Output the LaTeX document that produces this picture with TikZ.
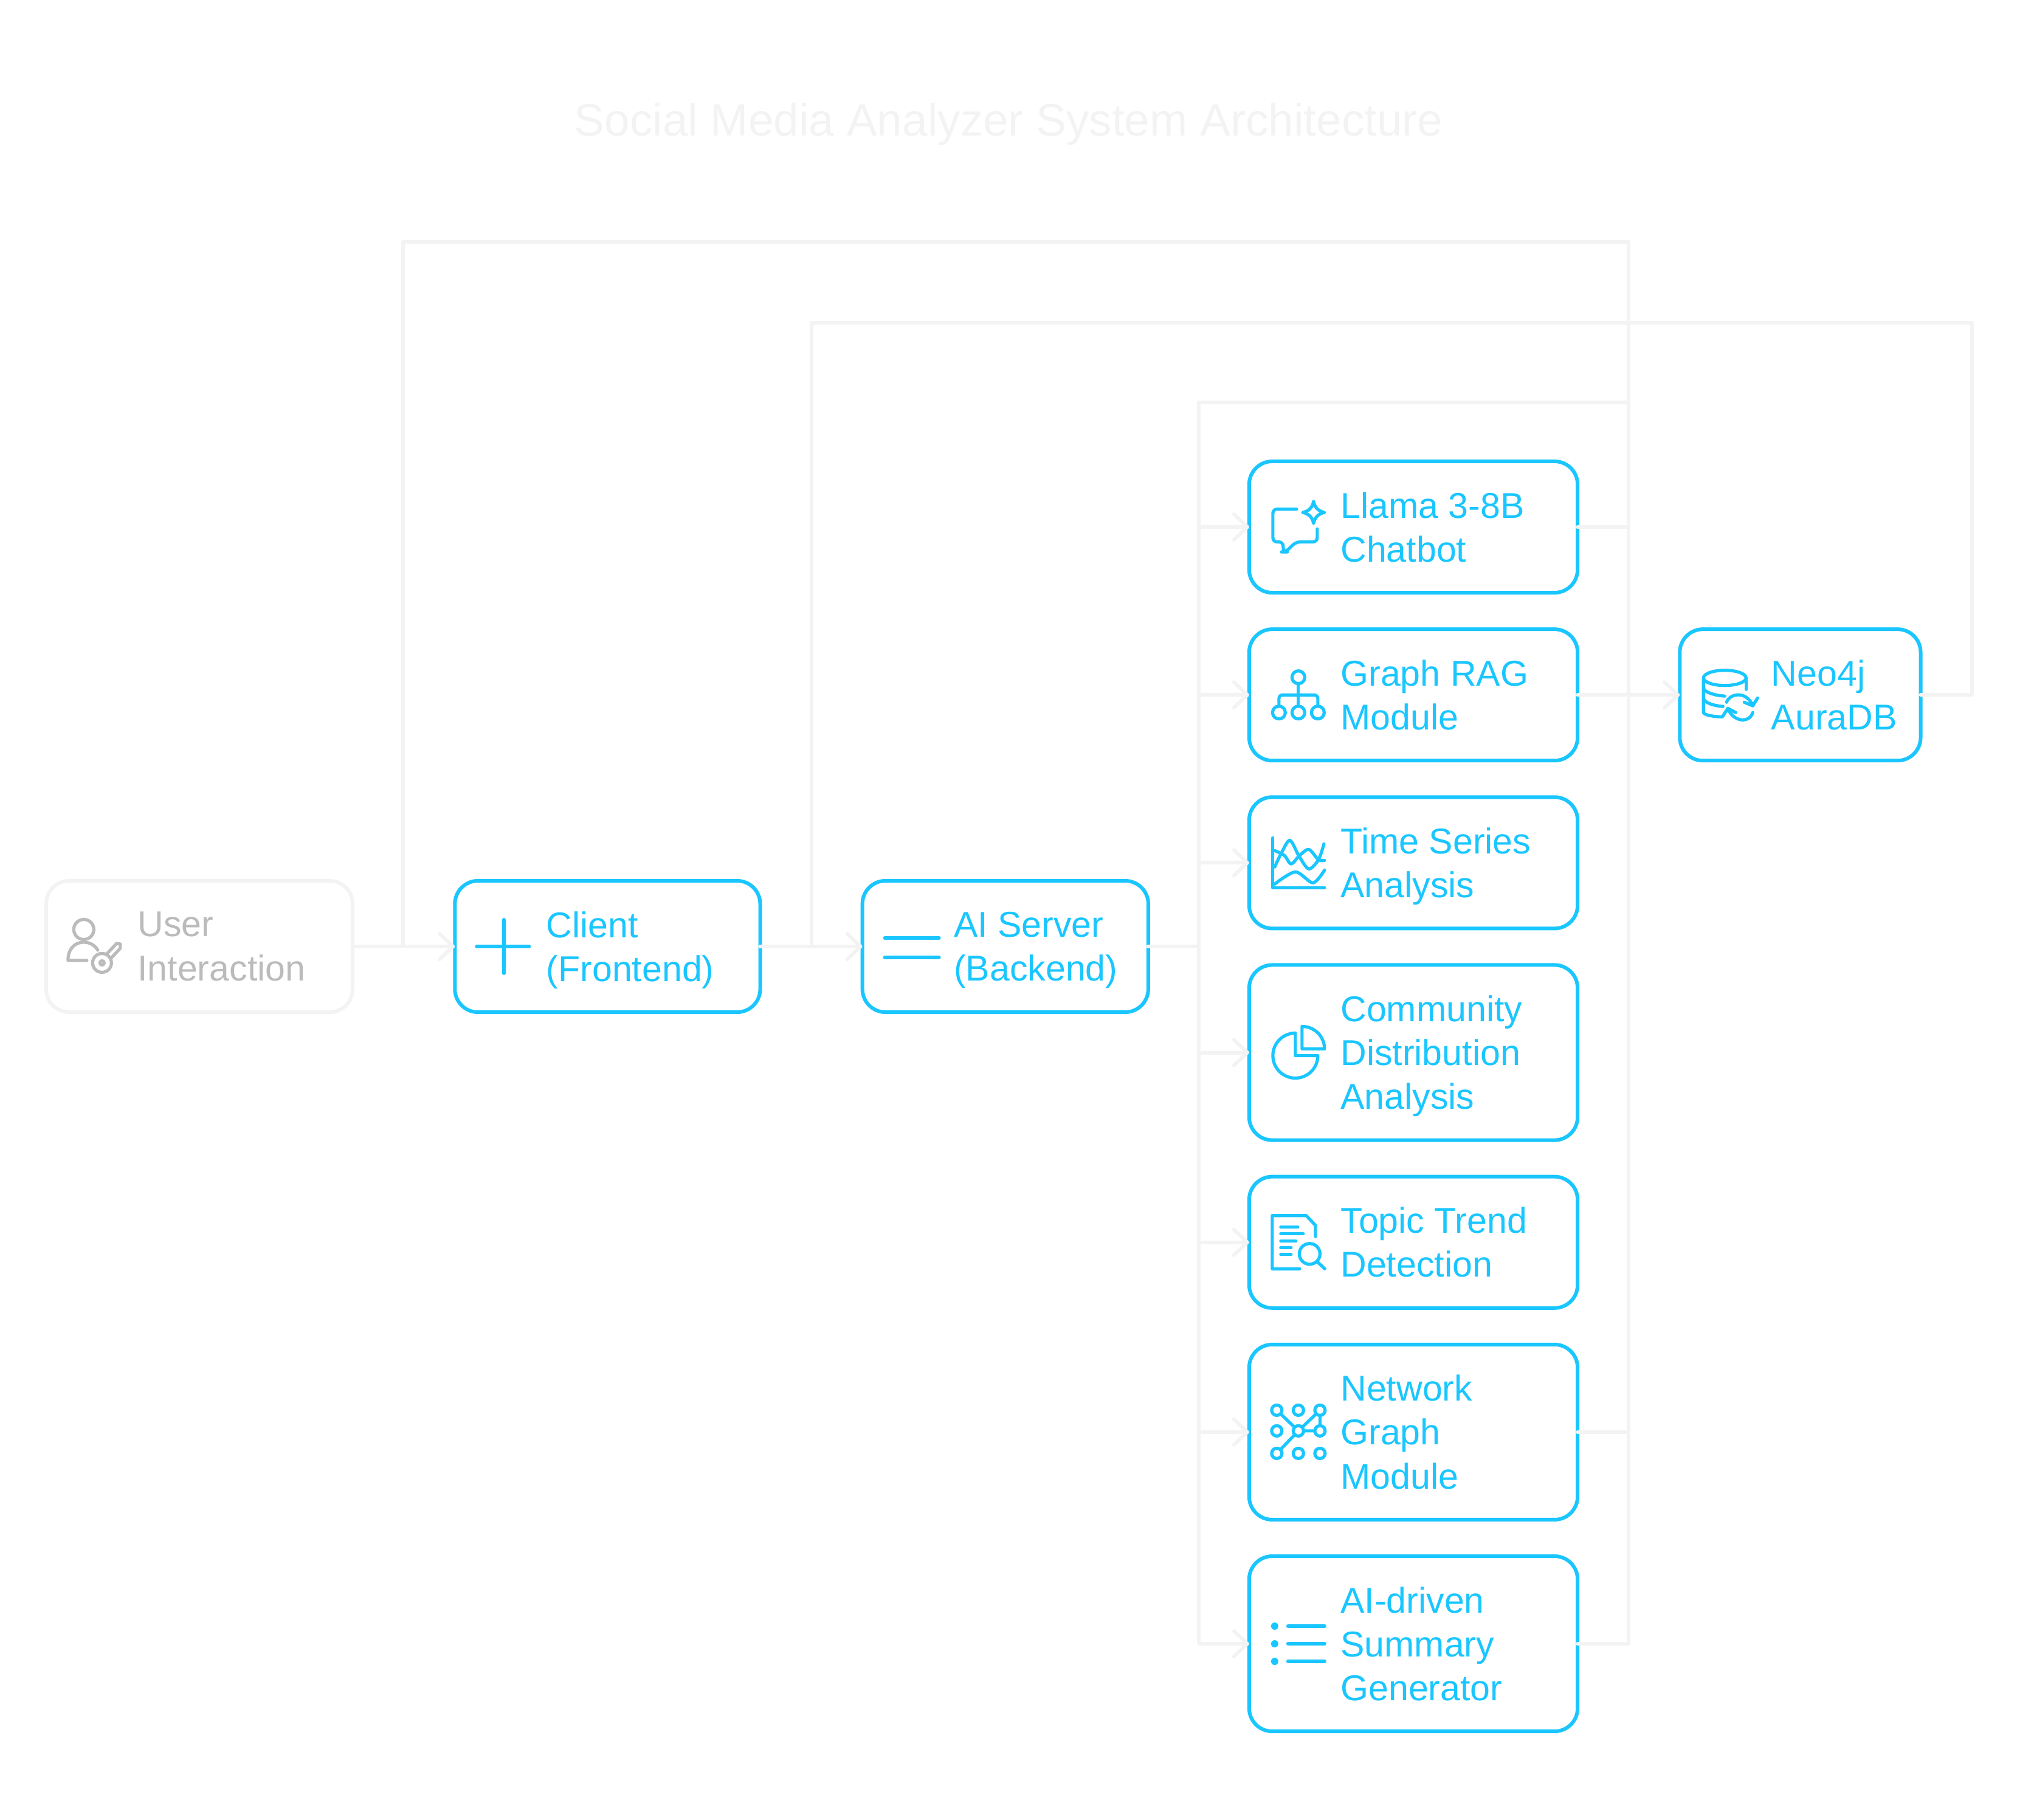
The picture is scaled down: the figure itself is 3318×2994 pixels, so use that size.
\documentclass[tikz,border=0pt]{standalone}
\usepackage{fontspec}
\setmainfont{Liberation Sans}
\usetikzlibrary{arrows.meta,positioning,calc}
\definecolor{sky}{HTML}{1AC6FF}
\definecolor{wirecol}{HTML}{F3F3F3}
\definecolor{fade}{HTML}{BBBBBB}
\tikzset{
  modbox/.style={draw=sky, line width=.06cm, rounded corners=.38cm, outer sep=0pt, inner sep=0pt, minimum height=2.16cm},
  userbox/.style={modbox, draw=wirecol},
  modlabel/.style={text=sky, font=\fontsize{16.8pt}{20.5pt}\selectfont, align=left, inner sep=0pt, outer sep=0pt, yshift=-.105cm,
    execute at begin node=\strut, execute at end node=\strut},
  wire/.style={draw=wirecol, line width=.06cm, line cap=round, line join=round},
  link/.style={wire, -{Straight Barb[round,length=.22cm,width=.42cm]}},
  iconline/.style={draw=sky, line width=.052cm, line cap=round, line join=round},
  usericon/.pic={
    \draw[iconline, draw=fade] (62,-28) circle[radius=16.5];
    \draw[iconline, draw=fade] (67,23) -- (36,23) .. controls (36,5) and (46,-7) .. (62,-7) .. controls (72,-7) and (80,-2) .. (85,6);
    \draw[iconline, draw=fade] (92,27) circle[radius=15.5];
    \draw[iconline, draw=fade] (92,27) circle[radius=3.5];
    \draw[iconline, draw=fade] (100,12) -- (116,-5) -- (122,-4) -- (122,3) -- (107,19);
  },
  plusicon/.pic={
    \draw[iconline, line width=.06cm] (36,0) -- (122,0);
    \draw[iconline, line width=.06cm] (81,-44) -- (81,44);
  },
  equalicon/.pic={
    \draw[iconline, line width=.06cm] (37,-14) -- (126,-14);
    \draw[iconline, line width=.06cm] (37,18) -- (126,18);
  },
  chaticon/.pic={
    \draw[iconline, rounded corners=.07cm] (78,-29.5) -- (39,-29.5) -- (39,24.5) -- (56,24.5) -- (56,41) -- (60,41) -- (77,24.5) -- (112,24.5) -- (112,3);
    \draw[iconline] (106,-42) .. controls (108,-32) and (114,-26) .. (124,-24) .. controls (114,-22) and (108,-16) .. (106,-6) .. controls (104,-16) and (98,-22) .. (88,-24) .. controls (98,-26) and (104,-32) .. (106,-42);
  },
  ragicon/.pic={
    \draw[iconline] (81,-29) circle[radius=10.5];
    \draw[iconline] (81,-18) -- (81,18);
    \draw[iconline, rounded corners=.06cm] (49,18) -- (49,0) -- (113,0) -- (113,18);
    \foreach \cx in {49,81,113} \draw[iconline] (\cx,29) circle[radius=10.5];
  },
  timeicon/.pic={
    \draw[iconline] (39,-41) -- (39,41) -- (124,41);
    \draw[iconline] plot[smooth] coordinates {(42,7) (53,-16) (67,-37) (82,-11) (98,10) (114,-5) (123,-31)};
    \draw[iconline] plot[smooth] coordinates {(42,-20) (58,-12) (69,2) (82,-11) (98,-22) (114,-5) (124,-4)};
    \draw[iconline] plot[smooth] coordinates {(42,35) (76,15) (105,33) (124,12)};
  },
  pieicon/.pic={
    \draw[iconline] (76,-32) arc[start angle=-90, end angle=-360, radius=37] -- (76,5) -- cycle;
    \draw[iconline] (87,-43) arc[start angle=-90, end angle=0, radius=37] -- (87,-6) -- cycle;
  },
  docicon/.pic={
    \draw[iconline] (83,43.5) -- (38,43.5) -- (38,-44) -- (94,-44) -- (109,-28) -- (109,-9.5);
    \foreach \ly/\lx in {-25/80,-14/89,-2/77,9/69,20/69} \draw[iconline] (52,\ly) -- (\lx,\ly);
    \draw[iconline] (99.5,19) circle[radius=17];
    \draw[iconline] (112,32) -- (124.5,43.5);
  },
  neticon/.pic={
    \draw[iconline] (45.5,-36) -- (81,-2) -- (45.5,35);
    \draw[iconline] (116.5,-36) -- (81,-2) -- (116.5,-2) -- cycle;
    \foreach \cx in {45.5,81,116.5} \foreach \cy in {-36,-2,35}
      \draw[iconline, fill=white] (\cx,\cy) circle[radius=8.5];
  },
  listicon/.pic={
    \foreach \ly in {-29,0,29} {
      \fill[sky] (42,\ly) circle[radius=6];
      \draw[iconline, line width=.06cm] (64,\ly) -- (124,\ly);
    }
  },
  dbicon/.pic={
    \draw[iconline] (74,-28) ellipse[x radius=35, y radius=12.5];
    \draw[iconline] (39,-28) -- (39,29) .. controls (40,33) and (55,36) .. (69,36);
    \draw[iconline] (109,-28) -- (109,-9);
    \draw[iconline] (39,-11) .. controls (41,-4) and (58,1) .. (74,2);
    \draw[iconline] (39,6) .. controls (41,13) and (56,18) .. (71,19);
    \draw[iconline] (77,12) .. controls (82,-2) and (108,-8) .. (120,17) (128,5) -- (120,18) -- (106,12);
    \draw[iconline] (120,29) .. controls (115,46) and (90,46) .. (79,23) (70,36) -- (79,22) -- (92,29);
  },
}
\begin{document}
\begin{tikzpicture}[x=.01cm, y=-.01cm, node distance=.6cm]
    \useasboundingbox (0,0) rectangle (3318,2994);

    \node (title) [text=wirecol, font=\fontsize{21.25pt}{25pt}\selectfont, inner sep=0pt, anchor=base] at (1659,224) {Social Media Analyzer System Architecture};

    \node (user) [userbox, minimum width=5.04cm] at (328,1557) {};
    \node (client) [modbox, minimum width=5.02cm, right=1.68cm of user] {};
    \node (server) [modbox, minimum width=4.7cm, right=1.68cm of client] {};

    \node (chat) [modbox, minimum width=5.4cm] at (2325,867) {};
    \node (rag) [modbox, minimum width=5.4cm, below=of chat] {};
    \node (series) [modbox, minimum width=5.4cm, below=of rag] {};
    \node (community) [modbox, minimum width=5.4cm, minimum height=2.88cm, below=of series] {};
    \node (topic) [modbox, minimum width=5.4cm, below=of community] {};
    \node (network) [modbox, minimum width=5.4cm, minimum height=2.88cm, below=of topic] {};
    \node (summary) [modbox, minimum width=5.4cm, minimum height=2.88cm, below=of network] {};
    \node (neo) [modbox, minimum width=3.96cm, right=1.68cm of rag] {};

    \node (userlabel) [modlabel, text=fade, right=1.505cm of user.west] {User\\Interaction};
    \node (clientlabel) [modlabel, right=1.505cm of client.west] {Client\\(Frontend)};
    \node (serverlabel) [modlabel, right=1.505cm of server.west] {AI Server\\(Backend)};
    \node (chatlabel) [modlabel, right=1.505cm of chat.west] {Llama 3-8B\\Chatbot};
    \node (raglabel) [modlabel, right=1.505cm of rag.west] {Graph RAG\\Module};
    \node (serieslabel) [modlabel, right=1.505cm of series.west] {Time Series\\Analysis};
    \node (communitylabel) [modlabel, right=1.505cm of community.west] {Community\\Distribution\\Analysis};
    \node (topiclabel) [modlabel, right=1.505cm of topic.west] {Topic Trend\\Detection};
    \node (networklabel) [modlabel, right=1.505cm of network.west] {Network\\Graph\\Module};
    \node (summarylabel) [modlabel, right=1.505cm of summary.west] {AI-driven\\Summary\\Generator};
    \node (neolabel) [modlabel, right=1.505cm of neo.west] {Neo4j\\AuraDB};

    \coordinate (wireA) at (663,398);
    \coordinate (wireB) at (2679,398);
    \coordinate (wireC) at (1335,531);
    \coordinate (wireD) at (3244,531);
    \coordinate (trunk) at (1972,662);

    \draw [wire] (user.east) -| (wireA) -- (wireB) |- (summary.east);
    \draw [wire] (client.east) -| (wireC) -- (wireD) |- (neo.east);
    \draw [wire] (server.east) -| (trunk) -- (wireB |- trunk);
    \draw [link] (user) -- (client);
    \draw [link] (client) -- (server);
    \foreach \mod in {chat,rag,series,community,topic,network,summary}
        \draw [link] (trunk |- server.east) |- (\mod.west);
    \draw [wire] (server.east) -- (trunk |- server.east);
    \draw [wire] (chat.east) -- (wireB |- chat.east);
    \draw [wire] (network.east) -- (wireB |- network.east);
    \draw [link] (rag) -- (neo);

    \pic at (user.west) {usericon};
    \pic at (client.west) {plusicon};
    \pic at (server.west) {equalicon};
    \pic at (chat.west) {chaticon};
    \pic at (rag.west) {ragicon};
    \pic at (series.west) {timeicon};
    \pic at (community.west) {pieicon};
    \pic at (topic.west) {docicon};
    \pic at (network.west) {neticon};
    \pic at (summary.west) {listicon};
    \pic at (neo.west) {dbicon};
\end{tikzpicture}
\end{document}
